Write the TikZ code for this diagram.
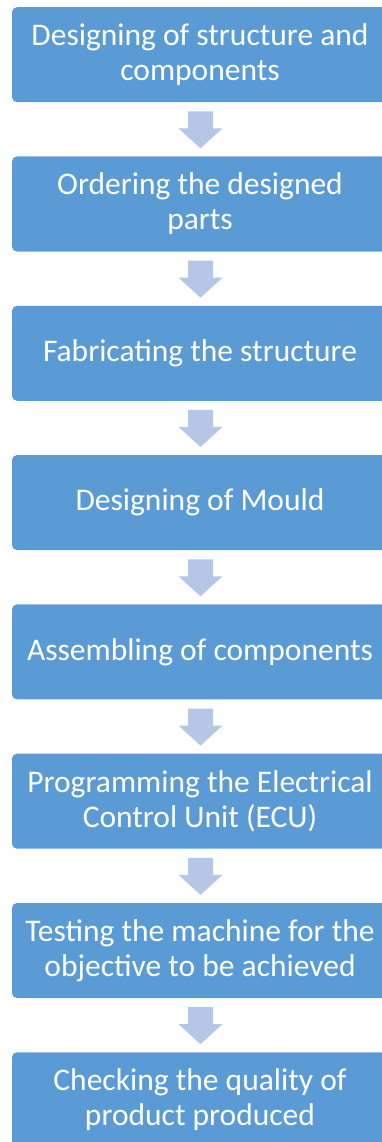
\documentclass[tikz,border=0pt]{standalone}
\usepackage{fontspec}
\setmainfont{Carlito}
\usetikzlibrary{calc}
\definecolor{boxblue}{HTML}{5B9BD5}
\definecolor{arrowblue}{HTML}{B4C7E7}
\begin{document}
\begin{tikzpicture}[x=1pt,y=-1pt,
  stepbox/.style={fill=boxblue, rounded corners=5pt, minimum width=376pt, minimum height=95pt,
    text=white, align=center, font=\fontsize{31.5}{35}\selectfont, inner sep=0pt, anchor=north},
  downarrow/.style={fill=arrowblue, draw=none}
]
\useasboundingbox (0,0) rectangle (382,1142);
\begin{scope}
\clip (0,0) rectangle (382,1142);
\node[stepbox] (b1) at (200,7) {Designing of structure and\\components};
\node[stepbox] (b2) at (200,156.3) {Ordering the designed\\parts};
\node[stepbox] (b3) at (200,305.6) {Fabricating the structure};
\node[stepbox] (b4) at (200,454.9) {Designing of Mould};
\node[stepbox] (b5) at (200,604.2) {Assembling of components};
\node[stepbox] (b6) at (200,753.5) {Programming the Electrical\\Control Unit (ECU)};
\node[stepbox] (b7) at (200,902.8) {Testing the machine for the\\objective to be achieved};
\node[stepbox] (b8) at (200,1052.1) {Checking the quality of\\product produced};
\foreach \a/\b in {b1/b2,b2/b3,b3/b4,b4/b5,b5/b6,b6/b7,b7/b8}{
  \coordinate (m-\a) at ($(\a.south)!0.5!(\b.north)+(0.5,0)$);
  \fill[downarrow, shift={(m-\a)}] (-12.5,-18) -- (12.5,-18) -- (12.5,-1) -- (22,-1)
     -- (0,19) -- (-22,-1) -- (-12.5,-1) -- cycle;
}
\end{scope}
\end{tikzpicture}
\end{document}
